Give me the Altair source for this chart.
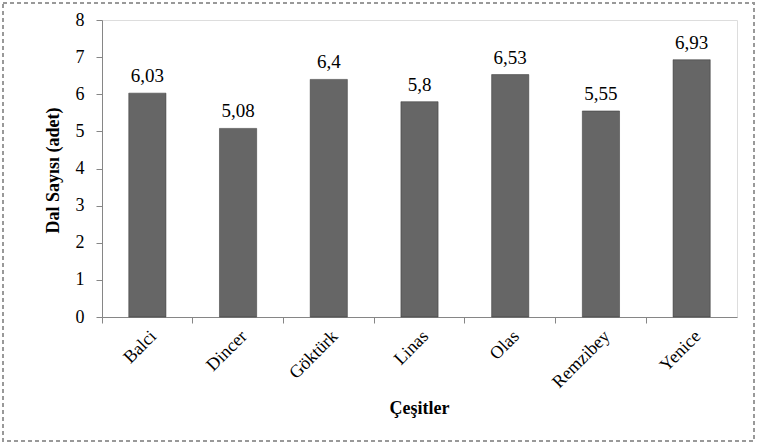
import altair as alt
import pandas as pd

categories = ["Balci", "Dincer", "Göktürk", "Linas", "Olas", "Remzibey", "Yenice"]
values = [6.03, 5.08, 6.4, 5.8, 6.53, 5.55, 6.93]
labels = ["6,03", "5,08", "6,4", "5,8", "6,53", "5,55", "6,93"]

df = pd.DataFrame({"cat": categories, "val": values, "lab": labels})

FONT = "Liberation Serif"
x = alt.X("cat:N", sort=categories, title="Çeşitler",
          scale=alt.Scale(paddingInner=0, paddingOuter=0),
          axis=alt.Axis(bandPosition=0, labelAngle=-45,
                        labelAlign="right", labelBaseline="top",
                        labelFont=FONT, labelFontSize=18, labelColor="#000",
                        labelPadding=4, tickSize=6, tickColor="#868686",
                        domainColor="#868686", titleFont=FONT, titleFontSize=18,
                        titleFontWeight="bold", titleColor="#000",
                        titleX=317, titleY=91, titleBaseline="middle",
                        titleAlign="center"))
y = alt.Y("val:Q", title="Dal Sayısı (adet)",
          scale=alt.Scale(domain=[0, 8], nice=False),
          axis=alt.Axis(values=[0, 1, 2, 3, 4, 5, 6, 7, 8], grid=False, tickSize=6,
                        labelOverlap=False,
                        tickColor="#868686", domainColor="#868686",
                        labelFont=FONT, labelFontSize=18, labelColor="#000",
                        labelPadding=12, titleFont=FONT, titleFontSize=18,
                        titleFontWeight="bold", titleColor="#000",
                        titleX=-49, titleY=150, titleBaseline="middle",
                        titleAlign="center", titleAngle=-90))

base = alt.Chart(df).encode(x=x, y=y)
bars = base.mark_bar(width=alt.RelativeBandSize(0.41), color="#666666",
                     stroke="#333", strokeWidth=0.5)
text = base.mark_text(baseline="alphabetic", dy=-11, font=FONT, fontSize=19,
                      color="#000").encode(text="lab:N")
border = alt.Chart(df).mark_rect(fill=None, stroke="#999999", strokeDash=[4, 3],
                                 strokeWidth=1.5).encode(
    x=alt.value(-99), x2=alt.value(652), y=alt.value(-17), y2=alt.value(421))

chart = alt.layer(bars, text, border).properties(
    width=635, height=297,
    autosize=alt.AutoSizeParams(type="none"),
    padding={"left": 102, "top": 20, "right": 20, "bottom": 128},
).configure_view(stroke=None).configure(background="white")

chart.save("out.html", embed_options={"renderer": "svg", "actions": False})
